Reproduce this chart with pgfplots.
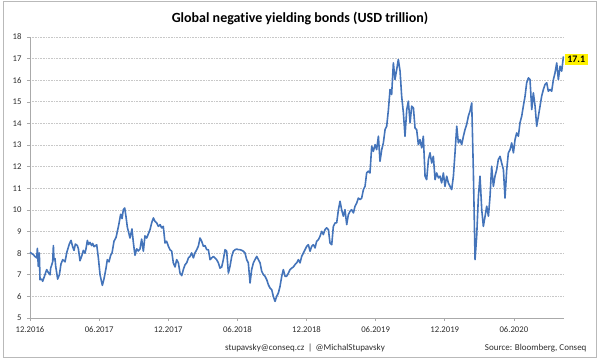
\documentclass[border=0pt]{standalone}
\usepackage{pgfplots}
\pgfplotsset{compat=1.18}
\usepackage{fontspec}
\setmainfont{Carlito}[Ligatures=NoCommon]
\definecolor{lineblue}{RGB}{68,116,186}
\definecolor{axisgray}{RGB}{170,170,170}
\definecolor{gridgray}{RGB}{200,200,200}
\definecolor{bordergray}{RGB}{185,185,185}
\definecolor{txt}{RGB}{45,45,45}
\begin{document}
\begin{tikzpicture}[x=1pt,y=1pt]
\useasboundingbox (0,0) rectangle (600,362);
\draw[bordergray, line width=1pt] (3,4.5) rectangle (596.5,360);
\node[font=\fontsize{14}{16}\selectfont\bfseries, text=black] at (300,344) {Global negative yielding bonds (USD trillion)};
\node[font=\fontsize{9}{10}\selectfont, text=txt] at (305,14) {stupavsky@conseq.cz \,|\, @MichalStupavsky};
\node[font=\fontsize{9}{10}\selectfont, text=txt, anchor=east] at (590,14) {Source: Bloomberg, Conseq};
\begin{axis}[
  scale only axis, width=534pt, height=281pt,
  at={(30pt,44pt)}, anchor=south west,
  xmin=0, xmax=46.35, ymin=5, ymax=18,
  axis x line*=bottom, axis y line*=left,
  axis line style={draw=axisgray, line width=0.8pt, -},
  xtick={0,6,12,18,24,30,36,42},
  xticklabels={12.2016,06.2017,12.2017,06.2018,12.2018,06.2019,12.2019,06.2020},
  ytick={5,6,...,18},
  ymajorgrids,
  grid style={gridgray, line width=0.7pt, dash pattern=on 1pt off 0.6pt},
  tick style={axisgray, line width=0.6pt},
  major tick length=3pt,
  tick align=outside,
  /pgf/number format/assume math mode=true,
  ticklabel style={font=\fontsize{8.7}{10}\selectfont, text=txt},
  yticklabel style={xshift=-2pt},
  xticklabel style={yshift=-2pt},
  clip=false,
]
\addplot[lineblue, line width=1.6pt, line join=round] coordinates {
(0.00,8.04)(0.29,7.93)(0.43,7.85)(0.58,7.78)(0.64,8.22)(0.72,7.39)(0.81,8.01)(0.87,6.77)
(1.01,6.80)(1.10,6.70)(1.30,7.00)(1.45,7.24)(1.59,7.10)(1.74,7.00)(1.79,7.30)(1.88,7.45)
(1.97,7.60)(2.03,8.35)(2.08,7.70)(2.17,7.75)(2.23,7.40)(2.40,6.80)(2.55,7.00)(2.69,7.50)
(2.84,7.70)(3.04,7.60)(3.13,7.85)(3.18,8.01)(3.41,8.42)(3.56,8.59)(3.70,8.30)(3.82,8.13)
(3.94,8.42)(4.11,8.35)(4.20,8.20)(4.34,7.65)(4.48,7.85)(4.63,8.13)(4.77,8.00)(4.86,8.20)
(4.98,8.59)(5.09,8.40)(5.21,8.50)(5.35,8.35)(5.44,8.45)(5.56,8.30)(5.79,8.39)(5.93,7.80)
(6.08,7.00)(6.28,6.51)(6.42,6.80)(6.60,7.31)(6.71,7.70)(6.86,7.60)(7.00,7.90)(7.12,8.01)
(7.29,8.55)(7.47,8.73)(7.58,9.00)(7.70,9.30)(7.87,9.80)(7.99,9.60)(8.10,10.01)(8.22,10.09)
(8.33,9.70)(8.45,9.20)(8.56,8.96)(8.68,8.70)(8.85,9.12)(8.97,8.50)(9.11,7.90)(9.26,8.20)
(9.40,8.10)(9.55,8.20)(9.69,8.65)(9.84,8.09)(9.98,8.80)(10.13,8.70)
(10.42,9.09)(10.56,9.40)(10.71,9.63)(10.85,9.47)(11.00,9.40)(11.14,9.24)(11.29,9.32)(11.43,9.17)
(11.57,9.24)(11.72,8.47)(11.86,8.55)(12.01,8.32)(12.15,8.16)(12.30,8.09)(12.44,7.55)(12.59,7.36)
(12.73,7.70)(12.88,7.55)(13.02,7.08)(13.17,6.96)(13.31,7.24)(13.46,7.47)(13.60,7.55)(13.75,7.78)
(13.89,7.85)(14.03,8.01)(14.18,7.78)(14.32,8.01)(14.47,8.16)(14.61,8.32)(14.76,8.70)(14.90,8.55)
(15.05,8.32)(15.19,8.35)(15.34,8.16)(15.48,8.16)(15.63,7.70)(15.77,7.78)(15.92,7.85)(16.06,7.78)
(16.20,7.70)(16.35,7.55)(16.49,7.31)(16.64,7.36)(16.78,7.70)(16.93,8.16)(17.07,8.09)(17.22,7.08)
(17.36,7.39)(17.51,7.85)(17.65,8.09)(17.80,8.16)(17.94,8.19)(18.09,8.16)(18.23,8.16)(18.38,8.13)
(18.52,8.09)(18.66,8.01)(18.81,7.70)(18.95,7.55)(19.10,6.62)(19.24,7.24)(19.39,7.55)(19.53,7.70)
(19.68,7.85)(19.82,7.70)(19.97,7.55)(20.11,7.16)(20.26,7.00)(20.40,6.93)(20.55,6.77)(20.69,6.54)
(20.83,6.39)(20.98,6.31)(21.12,6.00)(21.27,5.77)(21.41,6.00)(21.56,6.16)(21.70,6.46)(21.85,6.93)
(21.99,7.24)(22.14,6.93)(22.28,6.93)(22.43,7.08)(22.57,7.24)(22.72,7.31)(22.86,7.36)(23.00,7.47)
(23.15,7.55)(23.29,7.70)(23.44,7.55)(23.58,7.85)(23.73,8.01)(23.87,8.16)(24.02,8.32)(24.16,8.39)
(24.31,8.09)(24.45,8.32)(24.60,8.39)(24.74,8.24)(24.88,8.55)(25.03,8.62)(25.17,8.78)(25.32,9.01)
(25.46,8.86)(25.61,9.09)(25.75,9.17)(25.90,9.09)(26.04,8.47)(26.19,8.39)(26.33,9.24)(26.48,9.40)
(26.62,9.40)(26.77,10.01)(26.91,10.40)(27.05,10.01)(27.20,9.71)(27.34,10.01)(27.49,9.32)(27.63,9.78)
(27.78,9.94)(27.92,10.01)(28.07,9.86)(28.21,10.17)(28.36,10.32)(28.50,10.55)(28.65,10.48)(28.79,10.55)
(28.94,10.94)(29.08,11.09)(29.22,11.71)(29.37,11.79)(29.51,11.71)(29.66,12.95)(29.80,12.71)(29.95,13.02)
(30.09,12.79)(30.24,13.41)(30.38,12.25)(30.53,12.79)(30.67,13.10)(30.82,13.72)(30.96,13.87)(31.11,14.64)
(31.25,15.57)(31.39,15.34)(31.54,16.80)(31.68,16.03)(31.83,16.50)(31.97,16.96)(32.12,16.42)(32.26,15.26)
(32.41,14.49)(32.55,13.41)(32.70,14.64)(32.84,15.03)(32.99,14.03)(33.13,14.80)(33.28,14.72)(33.42,13.79)
(33.56,13.72)(33.71,13.02)(33.85,13.25)(34.00,12.87)(34.14,13.41)(34.29,11.56)(34.43,11.40)(34.58,12.33)
(34.72,12.64)(34.87,12.17)(35.01,12.48)(35.16,11.40)(35.30,11.71)(35.45,11.48)(35.59,11.56)(35.73,11.25)
(35.88,11.71)(36.02,11.09)(36.17,11.56)(36.31,11.25)(36.46,11.09)(36.60,10.94)(36.75,11.56)(36.89,12.64)
(37.04,13.87)(37.18,13.10)(37.33,13.25)(37.47,13.02)(37.62,13.41)(37.76,13.72)(37.90,13.95)(38.05,14.34)
(38.19,14.57)(38.34,14.95)(38.48,11.87)(38.63,7.70)(38.77,8.78)(38.92,10.63)(39.06,11.56)(39.21,10.01)
(39.35,9.24)(39.50,9.71)(39.64,10.17)(39.79,9.71)(39.93,10.63)(40.07,12.02)(40.22,11.09)(40.36,11.56)
(40.51,11.87)(40.65,12.33)(40.80,12.48)(40.94,12.17)(41.09,11.87)(41.23,10.55)(41.38,11.87)(41.52,12.64)
(41.67,12.79)(41.81,13.10)(41.96,12.64)(42.10,13.25)(42.24,13.56)(42.39,13.41)(42.53,14.03)(42.68,14.34)
(42.82,14.80)(42.97,15.26)(43.11,15.88)(43.26,16.11)(43.40,16.03)(43.55,14.64)(43.69,15.42)(43.84,14.80)
(43.98,13.87)(44.13,14.34)(44.27,14.80)(44.41,15.26)(44.56,15.57)(44.70,15.80)(44.85,15.88)(44.99,15.49)
(45.14,15.57)(45.28,15.49)(45.43,16.03)(45.57,16.34)(45.72,16.80)(45.86,16.03)(46.01,16.65)(46.15,16.42)
(46.30,17.10)
};
\node[fill=yellow, inner xsep=2.5pt, inner ysep=2pt, anchor=west, font=\fontsize{10}{11}\selectfont\bfseries, text=black] at (axis cs:46.4,16.95) {17.1};
\end{axis}
\end{tikzpicture}
\end{document}
